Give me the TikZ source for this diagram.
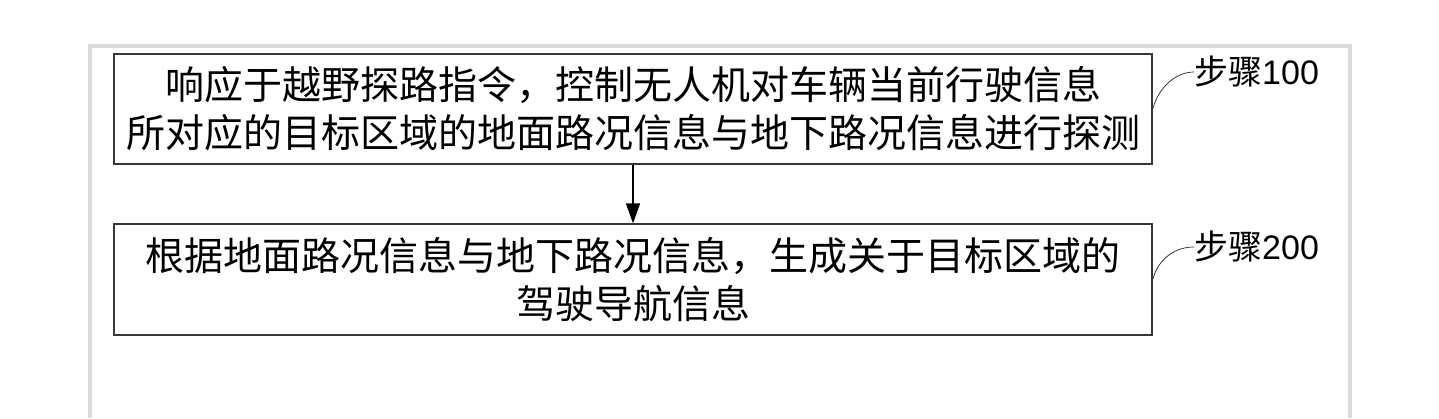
\documentclass[tikz,border=0pt]{standalone}
\usepackage{fontspec}
\setmainfont{Liberation Sans}
\newfontfamily\cjk{Noto Sans CJK SC}
\usetikzlibrary{arrows.meta}
\tikzset{
  stepbox/.style={draw=black!78, line width=1.4pt, minimum width=1038pt, inner sep=0pt,
    align=center, font=\cjk\fontsize{39}{48}\selectfont},
  steplabel/.style={anchor=west, inner sep=0pt, font=\fontsize{34}{36}\selectfont},
  leader/.style={line width=0.7pt, black!85},
  flow/.style={line width=1.4pt, -{Triangle[length=20pt,width=14pt]}},
  frame/.style={draw=black!14, line width=4pt}
}
\begin{document}
\begin{tikzpicture}[x=1pt,y=-1pt]
\useasboundingbox (0,0) rectangle (1439,418);
\fill[white] (0,0) rectangle (1439,418);
\draw[frame] (90,418) -- (90,46) -- (1350,46) -- (1350,418);
\node[stepbox, minimum height=110pt] (b1) at (633,109)
  {响应于越野探路指令，控制无人机对车辆当前行驶信息\\所对应的目标区域的地面路况信息与地下路况信息进行探测};
\node[stepbox, minimum height=111pt] (b2) at (633,279.5)
  {根据地面路况信息与地下路况信息，生成关于目标区域的\\驾驶导航信息};
\draw[flow] (b1.south) -- (b2.north);
\node[steplabel] (l1) at (1194,72) {{\cjk 步骤}100};
\node[steplabel] (l2) at (1194,247) {{\cjk 步骤}200};
\draw[leader] (b1.east) .. controls +(6,-22) and +(-18,0) .. (l1.west);
\draw[leader] (b2.east) .. controls +(6,-22) and +(-18,0) .. (l2.west);
\end{tikzpicture}
\end{document}
